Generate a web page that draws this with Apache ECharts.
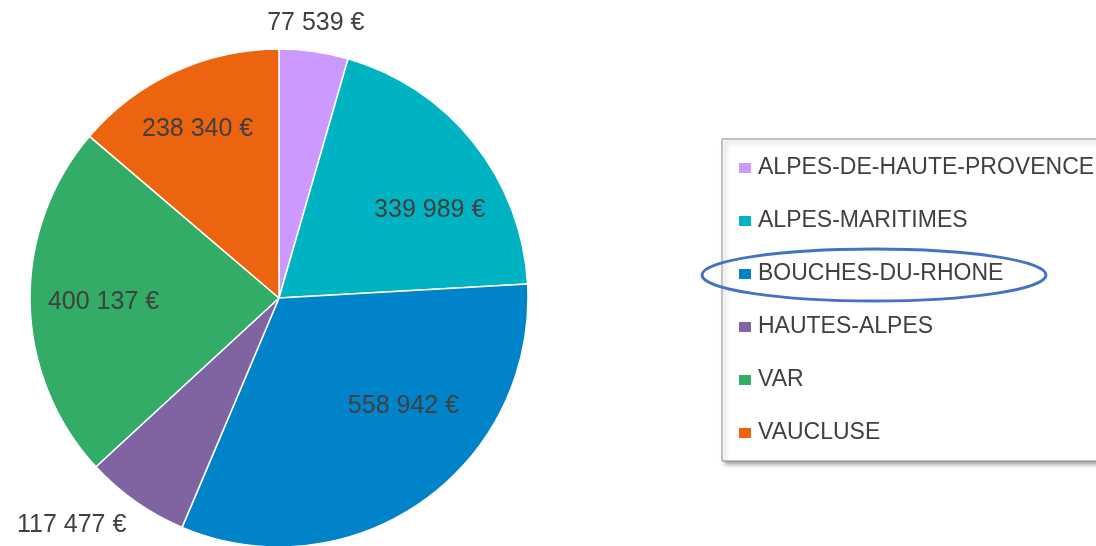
<!DOCTYPE html>
<html>
<head>
<meta charset="utf-8">
<script src="https://cdn.jsdelivr.net/npm/echarts@6/dist/echarts.min.js"></script>
<style>
  html, body { margin: 0; padding: 0; background: #fff; }
  #chart { width: 1096px; height: 546px; }
</style>
</head>
<body>
<div id="chart"></div>
<script>
// données par département
const departements = ['ALPES-DE-HAUTE-PROVENCE', 'ALPES-MARITIMES', 'BOUCHES-DU-RHONE', 'HAUTES-ALPES', 'VAR', 'VAUCLUSE']
const montants = [77539, 339989, 558942, 117477, 400137, 238340]

const couleurs = ['#cc99ff', '#00b3c3', '#0083c8', '#8064a2', '#32ac67', '#ec6410']
// décalage des étiquettes par rapport à la position "inside" d'ECharts
const decalages = [[19, -149], [51, -8], [51, 4], [-134, 123], [-48, 2], [-28, -53]]

const centre = [279, 298]
const rayon = 249

// 77539 -> "77 539 €"
const formatEuro = v => String(v).replace(/\B(?=(\d{3})+(?!\d))/g, ' ') + ' €'

const chart = echarts.init(document.getElementById('chart'))

chart.setOption({
  backgroundColor: '#fff',
  animation: false,
  legend: {
    orient: 'vertical',
    left: 722,
    top: 139,
    icon: 'rect',
    itemWidth: 14,
    itemHeight: 12,
    itemGap: 29,
    padding: [17, 30, 16, 15],
    backgroundColor: '#fff',
    borderColor: '#8c8c8c',
    borderWidth: 1,
    shadowColor: 'rgba(0, 0, 0, 0.35)',
    shadowBlur: 4,
    shadowOffsetX: 3,
    shadowOffsetY: 3,
    textStyle: {
      fontFamily: 'Liberation Sans',
      fontSize: 23,
      lineHeight: 24,
      color: '#404040',
      padding: [0, 0, 0, 1]
    },
    data: departements
  },
  series: [{
    type: 'pie',
    center: centre,
    radius: rayon,
    startAngle: 90,
    clockwise: true,
    itemStyle: {
      borderColor: '#fff',
      borderWidth: 1.5
    },
    label: {
      show: true,
      position: 'inside',
      fontFamily: 'Liberation Sans',
      fontSize: 25,
      color: '#404040',
      formatter: p => formatEuro(p.value)
    },
    labelLine: { show: false },
    labelLayout: params => {
      const d = decalages[params.dataIndex]
      return { dx: d[0], dy: d[1] }
    },
    emphasis: { disabled: true },
    data: departements.map((nom, i) => ({
      name: nom,
      value: montants[i],
      itemStyle: { color: couleurs[i] }
    }))
  }],
  // annotation : ellipse autour de BOUCHES-DU-RHONE
  graphic: [{
    type: 'ellipse',
    shape: { cx: 874, cy: 275, rx: 172, ry: 26 },
    style: { fill: 'none', stroke: '#4472c4', lineWidth: 3 },
    z: 100
  }]
})
</script>
</body>
</html>
